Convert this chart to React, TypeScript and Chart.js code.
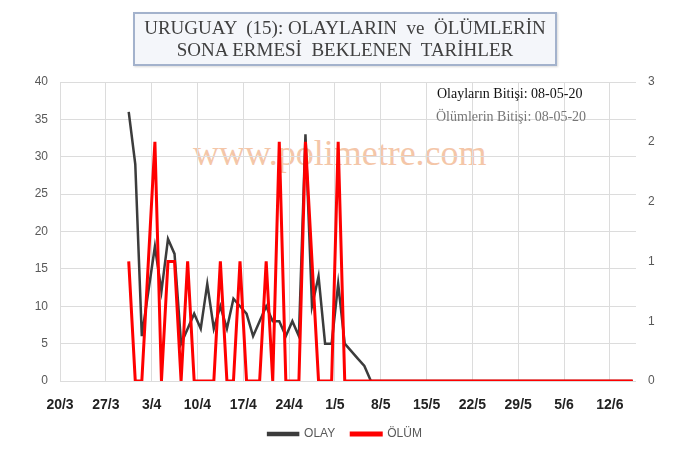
import { useEffect, useRef } from 'react';
import { Chart, registerables } from 'chart.js';

Chart.register(...registerables);

// x axis: days counted from 20/3, one tick label per week
const xTickLabels = ['20/3', '27/3', '3/4', '10/4', '17/4', '24/4', '1/5', '8/5', '15/5', '22/5', '29/5', '5/6', '12/6'];
const axisDays = 88; // 20/3 .. 16/6
const firstDataDay = 10; // first value is 30/3

// daily values, 30/3 .. 15/6
const olay = [
  36, 29, 6, 12, 18, 12, 19, 17, 5, 7,
  9, 7, 13, 7, 10, 7, 11, 10, 9, 6,
  8, 10, 8, 8, 6, 8, 6, 33, 10, 14,
  5, 5, 13, 5, 4, 3, 2, 0, 0, 0,
  0, 0, 0, 0, 0, 0, 0, 0, 0, 0,
  0, 0, 0, 0, 0, 0, 0, 0, 0, 0,
  0, 0, 0, 0, 0, 0, 0, 0, 0, 0,
  0, 0, 0, 0, 0, 0, 0, 0,
];
const olum = [
  1, 0, 0, 1, 2, 0, 1, 1, 0, 1,
  0, 0, 0, 0, 1, 0, 0, 1, 0, 0,
  0, 1, 0, 2, 0, 0, 0, 2, 1, 0,
  0, 0, 2, 0, 0, 0, 0, 0, 0, 0,
  0, 0, 0, 0, 0, 0, 0, 0, 0, 0,
  0, 0, 0, 0, 0, 0, 0, 0, 0, 0,
  0, 0, 0, 0, 0, 0, 0, 0, 0, 0,
  0, 0, 0, 0, 0, 0, 0, 0,
];

const leftMax = 40;
const leftStep = 5;
const rightMax = 2.5;
const rightStep = 0.5;

const titleLines = ['URUGUAY  (15): OLAYLARIN  ve  ÖLÜMLERİN', 'SONA ERMESİ  BEKLENEN  TARİHLER'];
const noteOlay = 'Olayların Bitişi: 08-05-20';
const noteOlum = 'Ölümlerin Bitişi: 08-05-20';
const watermark = 'www.polimetre.com';

export default function App() {
  const ref = useRef<HTMLCanvasElement>(null);

  useEffect(() => {
    document.body.style.margin = '0';
    const toPts = (arr: number[]) => arr.map((v, i) => ({ x: firstDataDay + i + 0.5, y: v }));
    const tickFont = { family: '"Liberation Sans", Arial, sans-serif', size: 12 };
    const chart = new Chart(ref.current as HTMLCanvasElement, {
      type: 'line',
      data: {
        datasets: [
          {
            label: 'OLAY',
            data: toPts(olay),
            borderColor: '#3c3c3c',
            backgroundColor: '#3c3c3c',
            borderWidth: 2.5,
            pointRadius: 0,
            tension: 0,
            yAxisID: 'y',
            order: 2,
          },
          {
            label: 'ÖLÜM',
            data: toPts(olum),
            borderColor: '#ff0000',
            backgroundColor: '#ff0000',
            borderWidth: 3,
            pointRadius: 0,
            tension: 0,
            yAxisID: 'y1',
            order: 1,
          },
        ],
      },
      options: {
        animation: false,
        responsive: false,
        layout: { padding: { top: 82, bottom: 0, left: 0, right: 0 } },
        scales: {
          x: {
            type: 'linear',
            min: 0,
            max: axisDays,
            afterBuildTicks: (s: any) => {
              s.ticks = xTickLabels.map((_, i) => ({ value: i * 7 }));
            },
            afterFit: (s: any) => {
              s.height = 31;
            },
            ticks: {
              autoSkip: false,
              maxRotation: 0,
              padding: 16,
              color: '#222222',
              font: { family: '"Liberation Sans", Arial, sans-serif', size: 14, weight: 'bold' },
              callback: (v: any) => xTickLabels[Math.round(Number(v) / 7)] ?? '',
            },
            grid: { color: '#dcdcdc', drawTicks: false },
            border: { display: false },
          },
          y: {
            position: 'left',
            min: 0,
            max: leftMax,
            afterFit: (s: any) => {
              s.width = 60;
            },
            ticks: { stepSize: leftStep, padding: 12, color: '#595959', font: tickFont },
            grid: { color: '#dcdcdc', drawTicks: false },
            border: { display: false },
          },
          y1: {
            position: 'right',
            min: 0,
            max: rightMax,
            afterFit: (s: any) => {
              s.width = 54;
            },
            ticks: {
              stepSize: rightStep,
              padding: 12,
              color: '#595959',
              font: tickFont,
              callback: (v: any) => String(Math.round(Number(v))),
            },
            grid: { display: false, drawTicks: false },
            border: { display: false },
          },
        },
        plugins: {
          legend: {
            position: 'bottom',
            labels: {
              boxWidth: 30,
              boxHeight: 2,
              padding: 16,
              color: '#595959',
              font: { family: '"Liberation Sans", Arial, sans-serif', size: 12 },
              sort: (a: any, b: any) => a.datasetIndex - b.datasetIndex,
            },
          },
          tooltip: { enabled: false },
        },
      } as any,
    });
    return () => chart.destroy();
  }, []);

  return (
    <div style={{ position: 'fixed', left: 0, top: 0, width: 690, height: 450, background: '#ffffff', overflow: 'hidden' }}>
      <div
        style={{
          position: 'absolute',
          left: 193,
          top: 135,
          fontFamily: '"Liberation Serif", "Times New Roman", serif',
          fontSize: 36,
          lineHeight: '36px',
          color: '#f4c6a8',
          whiteSpace: 'nowrap',
        }}
      >
        {watermark}
      </div>
      <canvas ref={ref} width={690} height={450} style={{ position: 'absolute', left: 0, top: 0, width: 690, height: 450 }} />
      <div
        style={{
          position: 'absolute',
          left: 133,
          top: 12,
          width: 424,
          height: 54,
          boxSizing: 'border-box',
          border: '2px solid #a3b2cc',
          background: '#f4f6fa',
          boxShadow: '1px 1px 2px rgba(0,0,0,0.15)',
          fontFamily: '"Liberation Serif", "Times New Roman", serif',
          fontSize: 19,
          lineHeight: '22px',
          color: '#404040',
          textAlign: 'center',
          paddingTop: 3,
          whiteSpace: 'pre',
        }}
      >
        {titleLines[0]}
        <br />
        {titleLines[1]}
      </div>
      <div
        style={{
          position: 'absolute',
          left: 437,
          top: 86,
          fontFamily: '"Liberation Serif", "Times New Roman", serif',
          fontSize: 14,
          lineHeight: '16px',
          color: '#111111',
          whiteSpace: 'nowrap',
        }}
      >
        {noteOlay}
      </div>
      <div
        style={{
          position: 'absolute',
          left: 436,
          top: 109,
          fontFamily: '"Liberation Serif", "Times New Roman", serif',
          fontSize: 14,
          lineHeight: '16px',
          color: '#777777',
          whiteSpace: 'nowrap',
        }}
      >
        {noteOlum}
      </div>
    </div>
  );
}
